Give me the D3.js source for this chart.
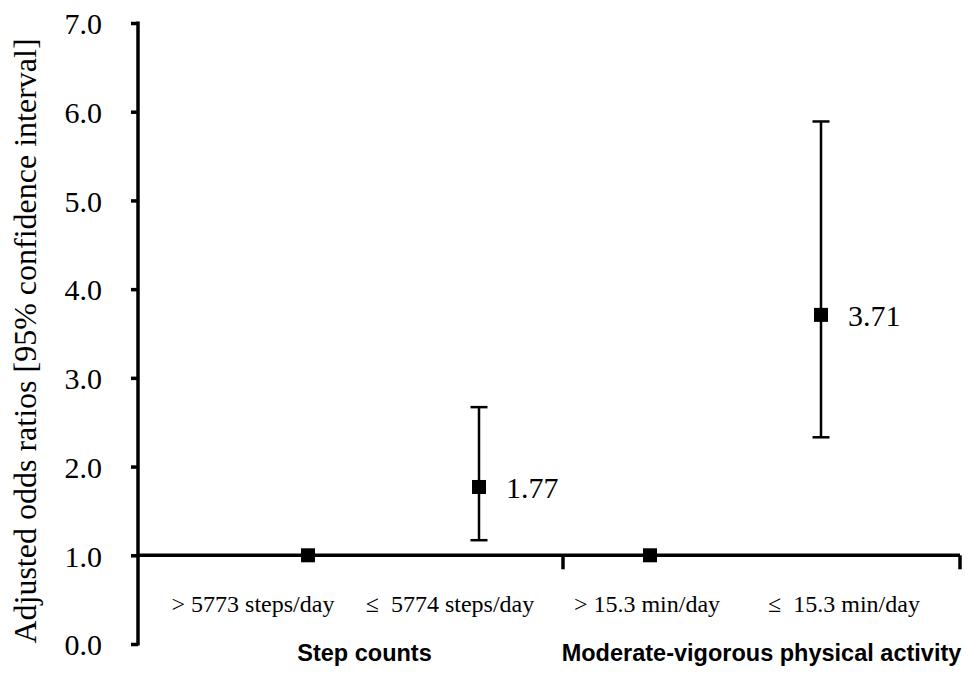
<!DOCTYPE html>
<html>
<head>
<meta charset="utf-8">
<script src="https://cdn.jsdelivr.net/npm/d3@7"></script>
<style>
  body { margin: 0; background: #fff; }
  .serif { font-family: "Liberation Serif", "Times New Roman", serif; }
  .sans { font-family: "Liberation Sans", Arial, sans-serif; }
</style>
</head>
<body>
<script>
// categories and estimates
var categories = ["> 5773 steps/day", "\u2264  5774 steps/day", "> 15.3 min/day", "\u2264  15.3 min/day"];
var groups = ["Step counts", "Moderate-vigorous physical activity"];
var oddsRatios = [1.0, 1.77, 1.0, 3.71];
var ciLower = [null, 1.17, null, 2.33];
var ciUpper = [null, 2.67, null, 5.89];
var valueLabels = [null, "1.77", null, "3.71"];
var yTicks = [0, 1, 2, 3, 4, 5, 6, 7];

var width = 970, height = 673;
var axisX = 138;

var svg = d3.select("body").append("svg")
    .attr("width", width)
    .attr("height", height);

var y = d3.scaleLinear().domain([0, 7]).range([644, 23]);
var x = d3.scalePoint().domain(categories).range([308, 821]);
var xLabel = d3.scalePoint().domain(categories).range([253, 844]);
var xGroup = d3.scaleBand().domain(groups).range([166, 960]);

// y axis
var yAxis = svg.append("g")
    .attr("transform", "translate(" + axisX + ",0)")
    .call(d3.axisLeft(y).tickValues(yTicks).tickFormat(d3.format(".1f")).tickSize(7).tickPadding(29));
yAxis.select(".domain").remove();
yAxis.selectAll(".tick line").attr("stroke", "#000").attr("stroke-width", 3.5);
yAxis.selectAll(".tick text")
    .attr("class", "serif")
    .attr("font-size", 30)
    .attr("fill", "#000")
    .attr("dy", "0.36em");
svg.append("line")
    .attr("x1", axisX).attr("x2", axisX)
    .attr("y1", y(7) - 1.5).attr("y2", y(0) + 1.5)
    .attr("stroke", "#000").attr("stroke-width", 3.5);

// y title
svg.append("text")
    .attr("class", "serif")
    .attr("transform", "translate(36," + 341 + ") rotate(-90)")
    .attr("text-anchor", "middle")
    .attr("font-size", 32)
    .text("Adjusted odds ratios [95% confidence interval]");

// reference line at 1.0 with group ticks
svg.append("line")
    .attr("x1", axisX).attr("x2", xGroup.range()[1])
    .attr("y1", y(1)).attr("y2", y(1))
    .attr("stroke", "#000").attr("stroke-width", 3.5);
svg.selectAll(".gtick")
    .data(groups)
    .enter().append("line")
    .attr("x1", function (d) { return xGroup(d) + xGroup.bandwidth(); })
    .attr("x2", function (d) { return xGroup(d) + xGroup.bandwidth(); })
    .attr("y1", y(1))
    .attr("y2", y(1) + 14)
    .attr("stroke", "#000").attr("stroke-width", 3.5);

// category labels
svg.selectAll(".cat")
    .data(categories)
    .enter().append("text")
    .attr("class", "serif")
    .attr("x", function (d) { return xLabel(d); })
    .attr("y", 612)
    .attr("text-anchor", "middle")
    .attr("font-size", 24)
    .style("white-space", "pre")
    .text(function (d) { return d; });

// group labels
svg.selectAll(".grp")
    .data(groups)
    .enter().append("text")
    .attr("class", "sans")
    .attr("x", function (d) { return xGroup(d) + xGroup.bandwidth() / 2; })
    .attr("y", 661)
    .attr("text-anchor", "middle")
    .attr("font-size", 23.5)
    .attr("font-weight", "bold")
    .text(function (d) { return d; });

// error bars
var rows = categories.map(function (c, i) {
  return { cat: c, or: oddsRatios[i], lo: ciLower[i], hi: ciUpper[i], label: valueLabels[i] };
});
var withCi = rows.filter(function (d) { return d.lo !== null; });

svg.selectAll(".ci")
    .data(withCi)
    .enter().append("line")
    .attr("x1", function (d) { return x(d.cat); })
    .attr("x2", function (d) { return x(d.cat); })
    .attr("y1", function (d) { return y(d.lo); })
    .attr("y2", function (d) { return y(d.hi); })
    .attr("stroke", "#000").attr("stroke-width", 2.5);

["lo", "hi"].forEach(function (k) {
  svg.selectAll(".cap-" + k)
      .data(withCi)
      .enter().append("line")
      .attr("x1", function (d) { return x(d.cat) - 8.5; })
      .attr("x2", function (d) { return x(d.cat) + 8.5; })
      .attr("y1", function (d) { return y(d[k]); })
      .attr("y2", function (d) { return y(d[k]); })
      .attr("stroke", "#000").attr("stroke-width", 2.5);
});

// points
svg.selectAll(".pt")
    .data(rows)
    .enter().append("rect")
    .attr("x", function (d) { return x(d.cat) - 7; })
    .attr("y", function (d) { return y(d.or) - 7; })
    .attr("width", 14)
    .attr("height", 14)
    .attr("fill", "#000");

// value labels
svg.selectAll(".val")
    .data(rows.filter(function (d) { return d.label !== null; }))
    .enter().append("text")
    .attr("class", "serif")
    .attr("x", function (d) { return x(d.cat) + 27; })
    .attr("y", function (d) { return y(d.or) + 11; })
    .attr("font-size", 30)
    .text(function (d) { return d.label; });
</script>
</body>
</html>
